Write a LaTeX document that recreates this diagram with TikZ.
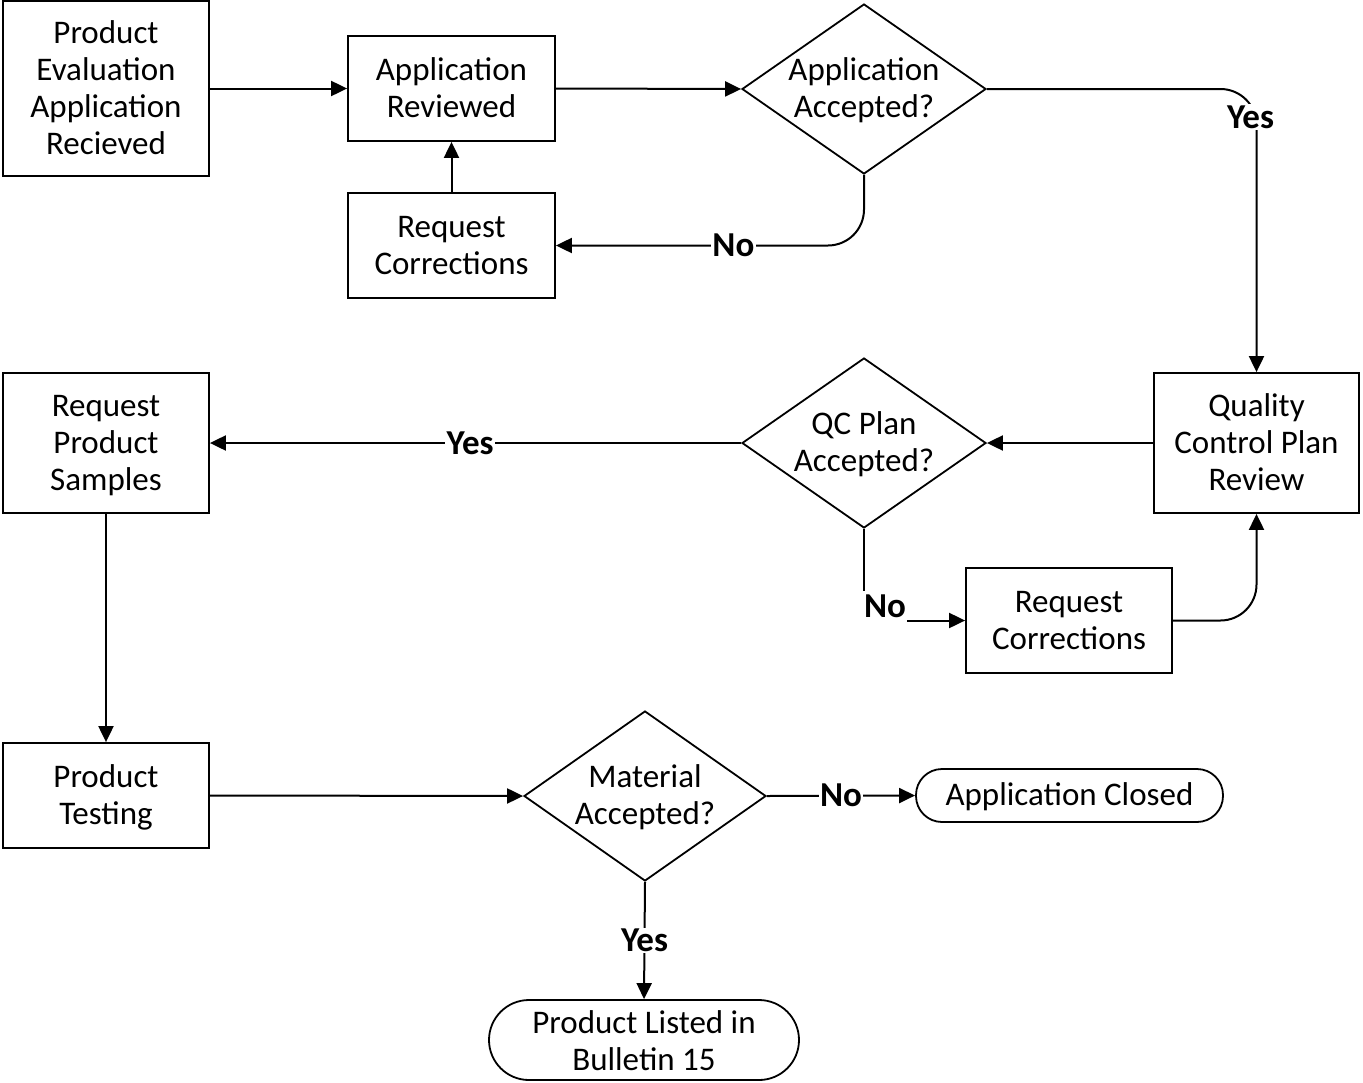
\documentclass[tikz,border=0pt]{standalone}
\usepackage{fontspec}
\setmainfont{Carlito}
\usetikzlibrary{shapes.geometric,arrows.meta}
\begin{document}
\begin{tikzpicture}[x=1pt,y=-1pt,
  every node/.style={font=\fontsize{33pt}{37pt}\selectfont},
  txt/.style={label={[align=center,yshift=-3pt]center:\strut#1\strut}},
  box/.style={draw,line width=1.8pt,rectangle,inner sep=0pt},
  dia/.style={draw,line width=1.8pt,diamond,inner sep=0pt,minimum width=244pt,minimum height=170pt},
  term/.style={draw,line width=1.8pt,rectangle,inner sep=0pt},
  conn/.style={line width=2pt,-{Triangle[length=16pt,width=15pt]}},
  lbl/.style={fill=white,sharp corners,inner sep=1.5pt,font=\fontsize{35pt}{37pt}\selectfont\bfseries}
]
\useasboundingbox (0,0) rectangle (1363,1082);
\node[box,minimum width=206pt,minimum height=175pt,txt={Product\\Evaluation\\Application\\Recieved}] (pe) at (106,88.5) {};
\node[box,minimum width=207pt,minimum height=105pt,txt={Application\\Reviewed}] (ar) at (451.5,88.5) {};
\node[dia,txt={Application\\Accepted?}] (d1) at (864,89) {};
\node[box,minimum width=207pt,minimum height=105pt,txt={Request\\Corrections}] (rc1) at (451.5,245.5) {};
\node[box,minimum width=205pt,minimum height=140pt,txt={Quality\\Control Plan\\Review}] (qc) at (1256.5,443) {};
\node[dia,txt={QC Plan\\Accepted?}] (d2) at (864,443) {};
\node[box,minimum width=206pt,minimum height=140pt,txt={Request\\Product\\Samples}] (rps) at (106,443) {};
\node[box,minimum width=206pt,minimum height=105pt,txt={Request\\Corrections}] (rc2) at (1069,620.5) {};
\node[box,minimum width=206pt,minimum height=105pt,txt={Product\\Testing}] (pt) at (106,795.5) {};
\node[dia,minimum width=242pt,txt={Material\\Accepted?}] (d3) at (645,796) {};
\node[term,rounded corners=26pt,minimum width=307pt,minimum height=53pt,txt={Application Closed}] (ac) at (1069.5,795.5) {};
\node[term,rounded corners=40pt,minimum width=310pt,minimum height=80pt,label={[align=center,yshift=-5pt]center:\strut Product Listed in\\Bulletin 15\strut}] (pl) at (644,1040) {};

\draw[conn] (pe.east) -- (ar.west);
\draw[conn] (ar.east) -- (d1.west);
\draw[conn,rounded corners=36pt] (d1.east) -| node[lbl,pos=0.55,xshift=-6pt] {Yes} (qc.north);
\draw[conn,rounded corners=36pt] (d1.south) |- node[lbl,pos=0.712] {No} (rc1.east);
\draw[conn] (rc1.north) -- (ar.south);
\draw[conn] (qc.west) -- (d2.east);
\draw[conn] (d2.west) -- node[lbl,pos=0.51] {Yes} (rps.east);
\draw[conn] (d2.south) |- node[lbl,inner ysep=4pt,pos=0.5,xshift=21pt,yshift=14pt] {No} (rc2.west);
\draw[conn,rounded corners=36pt] (rc2.east) -| (qc.south);
\draw[conn] (rps.south) -- (pt.north);
\draw[conn] (pt.east) -- (d3.west);
\draw[conn] (d3.east) -- node[lbl] {No} (ac.west);
\draw[conn] (d3.south) -- node[lbl] {Yes} (pl.north);
\end{tikzpicture}
\end{document}
